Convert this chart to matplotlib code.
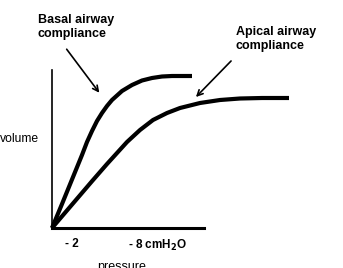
import matplotlib
matplotlib.use("Agg")
import matplotlib.pyplot as plt
from matplotlib.patches import FancyArrowPatch

plt.rcParams['font.family'] = ['Liberation Sans', 'DejaVu Sans']

# pressure (1 unit ~ 1 cmH2O) vs volume
basal_p = [0, 1, 2, 3, 3.5, 4, 4.5, 5, 5.5, 6, 7, 8, 9, 10, 11, 12, 14]
basal_v = [0, 2.4, 4.85, 7.3, 8.6, 9.7, 10.7, 11.5, 12.2, 12.8, 13.7, 14.3,
           14.75, 15.0, 15.15, 15.2, 15.2]
apical_p = [0, 2, 4, 5.5, 6.5, 7.5, 8.8, 10.1, 11.5, 12.8, 14.8, 16.8,
            18.8, 21.0, 23.7]
apical_v = [0, 2.34, 4.68, 6.4, 7.5, 8.6, 9.8, 10.8, 11.5, 12.0, 12.5, 12.8,
            12.95, 13.0, 13.0]

tick_pos = [2, 8]
tick_labels = ['- 2', '- 8 cmH$_\\mathbf{2}$O']

fig = plt.figure(figsize=(3.43, 2.68), dpi=100)
W, H = 343, 268
ax = fig.add_axes([52 / W, 40 / H, 152 / W, 158 / H])
ax.set_xlim(0, 15.2)
ax.set_ylim(0, 15.8)

for p, v in [(basal_p, basal_v), (apical_p, apical_v)]:
    ax.plot(p, v, color='black', lw=3, solid_capstyle='butt',
            solid_joinstyle='round', clip_on=False)

for s in ['top', 'right']:
    ax.spines[s].set_visible(False)
ax.spines['left'].set_linewidth(1.2)
ax.spines['bottom'].set_linewidth(2.2)
ax.set_xticks([])
ax.set_yticks([])

# tick labels
ax.text(tick_pos[0], -1.0, tick_labels[0], ha='center', va='top',
        fontsize=8.5, fontweight='bold')
ax.text(tick_pos[1] - 0.45, -1.0, tick_labels[1], ha='left', va='top',
        fontsize=8.5, fontweight='bold')

fig.text(0 / W, 1 - 139 / H, 'volume', ha='left', va='center', fontsize=8.7)
fig.text(97 / W, 1 - 267 / H, 'pressure', ha='left', va='center', fontsize=9)

fig.text(38 / W, 1 - 14 / H, 'Basal airway\ncompliance', ha='left', va='top',
         fontsize=9, fontweight='bold', linespacing=1.2)
fig.text(236 / W, 1 - 26 / H, 'Apical airway\ncompliance', ha='left', va='top',
         fontsize=9, fontweight='bold', linespacing=1.2)

arrow = dict(arrowstyle='->', color='black', lw=1.2, mutation_scale=10)
fig.add_artist(FancyArrowPatch((65 / W, 1 - 47 / H), (101 / W, 1 - 95 / H),
                               transform=fig.transFigure, **arrow))
fig.add_artist(FancyArrowPatch((233 / W, 1 - 59 / H), (194 / W, 1 - 99 / H),
                               transform=fig.transFigure, **arrow))

fig.savefig('out.png', dpi=100)
